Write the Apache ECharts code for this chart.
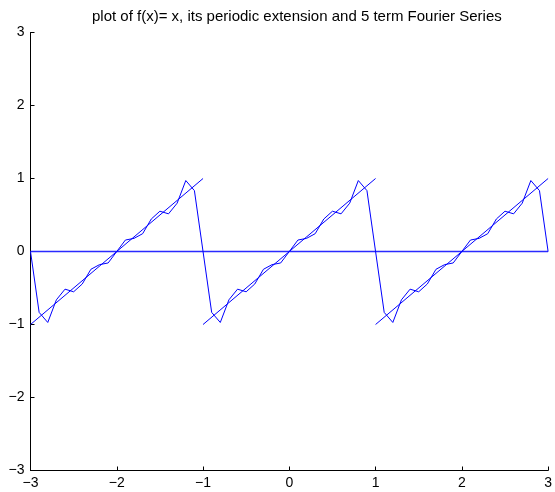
<!DOCTYPE html>
<html>
<head>
<meta charset="utf-8">
<script src="https://cdn.jsdelivr.net/npm/echarts@6/dist/echarts.min.js"></script>
<style>
  html, body { margin: 0; padding: 0; background: #fff; }
  #chart { width: 555px; height: 492px; }
</style>
</head>
<body>
<div id="chart"></div>
<script>
// Title
const titleText = 'plot of f(x)= x, its periodic extension and 5 term Fourier Series';

// Sample positions of the Fourier curve (step 0.1)
const fourierX = [
  -3.0, -2.9, -2.8, -2.7, -2.6, -2.5, -2.4, -2.3, -2.2, -2.1,
  -2.0, -1.9, -1.8, -1.7, -1.6, -1.5, -1.4, -1.3, -1.2, -1.1,
  -1.0, -0.9, -0.8, -0.7, -0.6, -0.5, -0.4, -0.3, -0.2, -0.1,
   0.0,  0.1,  0.2,  0.3,  0.4,  0.5,  0.6,  0.7,  0.8,  0.9,
   1.0,  1.1,  1.2,  1.3,  1.4,  1.5,  1.6,  1.7,  1.8,  1.9,
   2.0,  2.1,  2.2,  2.3,  2.4,  2.5,  2.6,  2.7,  2.8,  2.9,
   3.0
];
// 5 term Fourier series values
const fourierY = [
   0.000, -0.834, -0.972, -0.662, -0.516, -0.552, -0.445, -0.244, -0.180, -0.157,
   0.000,  0.157,  0.180,  0.244,  0.445,  0.552,  0.516,  0.662,  0.972,  0.834,
   0.000, -0.834, -0.972, -0.662, -0.516, -0.552, -0.445, -0.244, -0.180, -0.157,
   0.000,  0.157,  0.180,  0.244,  0.445,  0.552,  0.516,  0.662,  0.972,  0.834,
   0.000, -0.834, -0.972, -0.662, -0.516, -0.552, -0.445, -0.244, -0.180, -0.157,
   0.000,  0.157,  0.180,  0.244,  0.445,  0.552,  0.516,  0.662,  0.972,  0.834,
   0.000
];

// Periodic extension of f(x)=x: three segments
const seg1X = [-3, -1], seg1Y = [-1, 1];
const seg2X = [-1, 1],  seg2Y = [-1, 1];
const seg3X = [1, 3],   seg3Y = [-1, 1];

// Horizontal line at y = 0
const zeroX = [-3, 3];
const zeroY = [0, 0];

function pairs(xs, ys) {
  return xs.map((x, i) => [x, ys[i]]);
}

const minus = v => String(v).replace('-', '\u2212');
const FONT = 'Liberation Sans, Arial, Helvetica, sans-serif';

const chart = echarts.init(document.getElementById('chart'), null, { renderer: 'canvas' });

function makeAxis() {
  return {
    type: 'value',
    min: -3,
    max: 3,
    interval: 1,
    axisLine: { show: true, onZero: false, lineStyle: { color: '#000', width: 1 } },
    axisTick: { show: true, inside: true, length: 4, lineStyle: { color: '#000', width: 1 } },
    splitLine: { show: false },
    axisLabel: { color: '#000', fontSize: 14, fontFamily: FONT, formatter: minus, margin: 6 }
  };
}

function lineSeries(xs, ys) {
  return {
    type: 'line',
    data: pairs(xs, ys),
    symbol: 'none',
    lineStyle: { color: '#0000ff', width: 1 },
    z: 5
  };
}

chart.setOption({
  animation: false,
  backgroundColor: '#fff',
  title: {
    text: titleText,
    left: 87,
    top: 4,
    textStyle: { color: '#000', fontSize: 15, fontWeight: 'normal', fontFamily: FONT }
  },
  grid: { left: 30.5, right: 5, top: 32.5, bottom: 21.5 },
  xAxis: makeAxis(),
  yAxis: makeAxis(),
  series: [
    Object.assign(lineSeries(zeroX, zeroY), { lineStyle: { color: '#2a2aff', width: 1.3 } }),
    lineSeries(seg1X, seg1Y),
    lineSeries(seg2X, seg2Y),
    lineSeries(seg3X, seg3Y),
    lineSeries(fourierX, fourierY)
  ]
});
</script>
</body>
</html>
